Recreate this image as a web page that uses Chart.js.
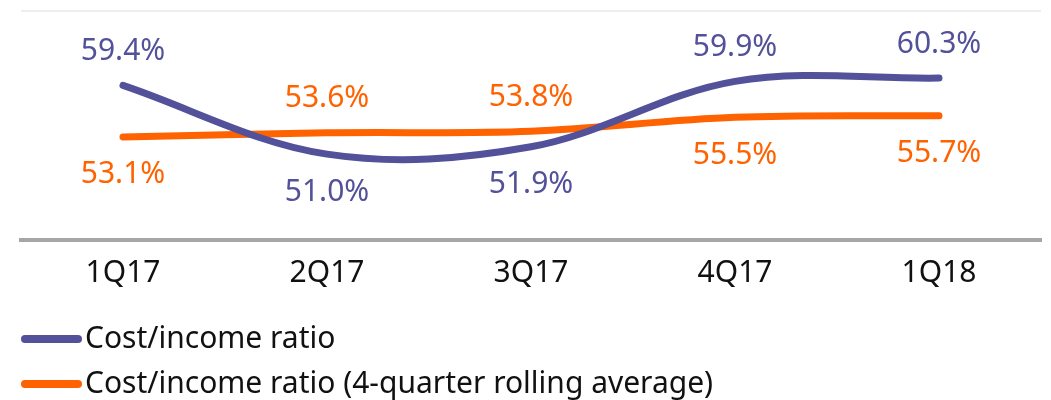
<!DOCTYPE html>
<html>
<head>
<meta charset="utf-8">
<script src="https://cdn.jsdelivr.net/npm/chart.js@4"></script>
<style>
  body { margin: 0; background: #fff; }
  #wrap { width: 1051px; height: 400px; position: relative; }
</style>
</head>
<body>
<div id="wrap"><canvas id="myChart"></canvas></div>
<script>
const trimestres = ['1Q17', '2Q17', '3Q17', '4Q17', '1Q18'];
const ratio = [59.4, 51.0, 51.9, 59.9, 60.3];
const ratioMedia = [53.1, 53.6, 53.8, 55.5, 55.7];
const nomes = ['Cost/income ratio', 'Cost/income ratio (4-quarter rolling average)'];

const roxo = '#52519a';
const laranja = '#ff6200';
const fonte = '"Noto Sans", sans-serif';

// rotulos acima/abaixo conforme a outra serie
const rotulos = {
    id: 'rotulos',
    afterDatasetsDraw(chart) {
        const ctx = chart.ctx;
        const ds = chart.data.datasets;
        ctx.save();
        ctx.font = '30px ' + fonte;
        ctx.textAlign = 'center';
        ctx.textBaseline = 'middle';
        ds.forEach((d, i) => {
            const outro = ds[1 - i].data;
            chart.getDatasetMeta(i).data.forEach((p, j) => {
                const acima = d.data[j] > outro[j];
                ctx.fillStyle = d.borderColor;
                ctx.fillText(d.data[j].toFixed(1) + '%', p.x, p.y + (acima ? -34 : 38));
            });
        });
        ctx.restore();
    }
};

// legenda em linhas separadas
const legenda = {
    id: 'legenda',
    afterDraw(chart) {
        const ctx = chart.ctx;
        ctx.save();
        ctx.font = '30px ' + fonte;
        ctx.textBaseline = 'middle';
        chart.data.datasets.forEach((d, i) => {
            var y = 339 + i * 45;
            ctx.strokeStyle = d.borderColor;
            ctx.lineWidth = 8;
            ctx.lineCap = 'round';
            ctx.beginPath();
            ctx.moveTo(25, y);
            ctx.lineTo(78, y);
            ctx.stroke();
            ctx.fillStyle = '#111';
            ctx.fillText(d.label, 85, y);
        });
        ctx.restore();
    }
};

const data = {
    labels: trimestres,
    datasets: [{
        label: nomes[0],
        data: ratio,
        borderColor: roxo,
        borderWidth: 7,
        tension: 0.35,
        pointRadius: 0,
        borderCapStyle: 'round'
    }, {
        label: nomes[1],
        data: ratioMedia,
        borderColor: laranja,
        borderWidth: 7,
        tension: 0.35,
        pointRadius: 0,
        borderCapStyle: 'round'
    }]
};

const config = {
    type: 'line',
    data,
    options: {
        responsive: false,
        animation: false,
        layout: { padding: { top: 11, left: 21, right: 10, bottom: 0 } },
        plugins: { legend: { display: false }, tooltip: { enabled: false } },
        scales: {
            x: {
                offset: true,
                grid: { display: false, drawTicks: false },
                border: { color: '#a6a6a6', width: 4 },
                ticks: { color: '#111', font: { family: fonte, size: 30 }, padding: 15 },
                afterFit: (s) => { s.height = 160; }
            },
            y: {
                display: true,
                min: 40.5,
                max: 68.5,
                ticks: { display: false },
                border: { display: false },
                grid: {
                    drawTicks: false,
                    color: (c) => c.tick && c.tick.value === 68.5 ? '#eeeeee' : 'rgba(0,0,0,0)',
                    lineWidth: 2
                },
                afterFit: (s) => { s.width = 0; }
            }
        }
    },
    plugins: [rotulos, legenda]
};

var canva = document.getElementById('myChart');
canva.width = 1051;
canva.height = 400;
new Chart(canva.getContext('2d'), config);
</script>
</body>
</html>
